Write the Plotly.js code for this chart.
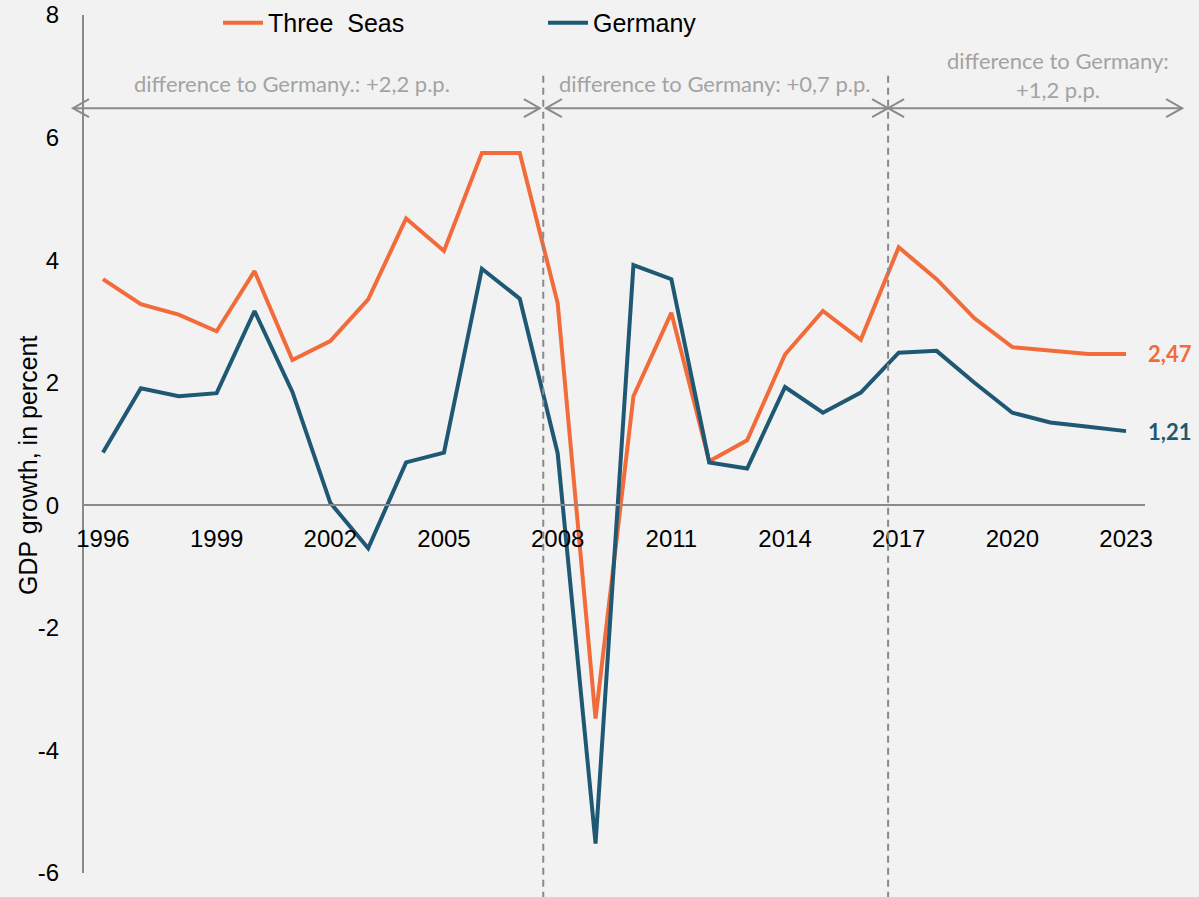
<!DOCTYPE html>
<html><head><meta charset="utf-8">
<script src="https://cdn.plot.ly/plotly-3.0.1.min.js"></script>
<style>html,body{margin:0;padding:0;background:#f2f2f2}</style>
</head><body><div id="chart" style="width:1199px;height:897px"></div>
<script>
const years = [1996,1997,1998,1999,2000,2001,2002,2003,2004,2005,2006,2007,2008,2009,2010,2011,2012,2013,2014,2015,2016,2017,2018,2019,2020,2021,2022,2023];
const threeSeas = [3.69,3.28,3.11,2.84,3.82,2.37,2.68,3.36,4.68,4.15,5.75,5.75,3.30,-3.48,1.78,3.14,0.72,1.06,2.46,3.17,2.70,4.21,3.69,3.05,2.58,2.52,2.47,2.47];
const germany = [0.86,1.91,1.78,1.83,3.17,1.85,0.04,-0.70,0.70,0.86,3.86,3.37,0.85,-5.52,3.92,3.69,0.70,0.60,1.93,1.51,1.84,2.49,2.52,2.00,1.51,1.35,1.28,1.21];
const seriesNames = ['Three  Seas', 'Germany'];
const xTickVals = [1996,1999,2002,2005,2008,2011,2014,2017,2020,2023];
const yTickVals = [-6,-4,-2,0,2,4,6,8];
const yTickText = ['-6','-4','-2','0','2','4','6','8'];
const yTitle = 'GDP growth, in percent';
const periodBreaks = [2007.62, 2016.72];
const periodLabels = ['difference to Germany.: +2,2 p.p.', 'difference to Germany: +0,7 p.p.', 'difference to Germany:<br>+1,2 p.p.'];

const ORANGE = '#f26b3a', TEAL = '#1f5873', GREY = '#8a8a8a', TXTGREY = '#a3a3a3';
const xRange = [1995.5, 2023.5];
const toPaperX = v => (v - xRange[0]) / (xRange[1] - xRange[0]);

const traces = [
  {x: years, y: threeSeas, name: seriesNames[0], type: 'scatter', mode: 'lines', line: {color: ORANGE, width: 4}},
  {x: years, y: germany, name: seriesNames[1], type: 'scatter', mode: 'lines', line: {color: TEAL, width: 4}}
];

const arrowY = 6.48;
const spans = [[-0.0104, toPaperX(2007.53)], [toPaperX(2007.69), toPaperX(periodBreaks[1])], [toPaperX(periodBreaks[1]), 1.035]];
const shapes = [];
periodBreaks.forEach(b => shapes.push({type: 'line', xref: 'x', yref: 'paper', x0: b, x1: b, y0: -0.03, y1: 0.932,
  line: {color: GREY, width: 2, dash: '7px,5px'}}));
spans.forEach(s => {
  shapes.push({type: 'line', xref: 'paper', yref: 'y', x0: s[0], x1: s[1], y0: arrowY, y1: arrowY, line: {color: GREY, width: 2}});
  shapes.push({type: 'path', xref: 'paper', yref: 'y', xsizemode: 'pixel', ysizemode: 'pixel', xanchor: s[0], yanchor: arrowY,
    path: 'M 16,9 L 0,0 L 16,-9', line: {color: GREY, width: 2}});
  shapes.push({type: 'path', xref: 'paper', yref: 'y', xsizemode: 'pixel', ysizemode: 'pixel', xanchor: s[1], yanchor: arrowY,
    path: 'M -16,9 L 0,0 L -16,-9', line: {color: GREY, width: 2}});
});

const labelFont = {family: 'Lato, sans-serif', size: 22, color: TXTGREY};
const annotations = [
  {xref: 'paper', yref: 'y', x: 0.1965, y: 6.884, xanchor: 'center', yanchor: 'middle', text: periodLabels[0], showarrow: false, font: labelFont},
  {xref: 'paper', yref: 'y', x: 0.5947, y: 6.884, xanchor: 'center', yanchor: 'middle', text: periodLabels[1], showarrow: false, font: labelFont},
  {xref: 'paper', yref: 'y', x: 0.918, y: 7.023, xanchor: 'center', yanchor: 'middle', text: periodLabels[2], showarrow: false, font: labelFont},
  {xref: 'x', yref: 'y', x: years[years.length-1], y: threeSeas[threeSeas.length-1], xanchor: 'left', yanchor: 'middle', xshift: 20, showarrow: false,
   text: threeSeas[threeSeas.length-1].toFixed(2).replace('.', ','), font: {family: 'Lato, sans-serif', size: 22, color: ORANGE, weight: 'bold'}},
  {xref: 'x', yref: 'y', x: years[years.length-1], y: germany[germany.length-1], xanchor: 'left', yanchor: 'middle', xshift: 20, showarrow: false,
   text: germany[germany.length-1].toFixed(2).replace('.', ','), font: {family: 'Lato, sans-serif', size: 22, color: TEAL, weight: 'bold'}},
  {xref: 'paper', yref: 'paper', x: -0.0528, y: 0.4755, xanchor: 'center', yanchor: 'middle', text: yTitle, textangle: -90, showarrow: false,
   font: {family: 'Liberation Sans, Arial, sans-serif', size: 25, color: '#000'}}
];

const axisFont = {family: 'Liberation Sans, Arial, sans-serif', size: 24, color: '#000'};
const layout = {
  width: 1199, height: 897,
  paper_bgcolor: '#f2f2f2', plot_bgcolor: '#f2f2f2',
  margin: {l: 84, r: 54, t: 15, b: 24, autoexpand: false},
  showlegend: true,
  legend: {orientation: 'h', x: 0.1263, xanchor: 'left', y: 0.9907, yanchor: 'middle', bgcolor: 'rgba(0,0,0,0)',
    font: {family: 'Liberation Sans, Arial, sans-serif', size: 25, color: '#000'}, entrywidth: 270, itemwidth: 40},
  xaxis: {range: xRange, tickvals: xTickVals, ticks: '', showline: true, linecolor: GREY, linewidth: 2,
    anchor: 'free', position: 6/14, showgrid: false, zeroline: false, tickfont: axisFont, ticklabelstandoff: 12, fixedrange: true},
  yaxis: {range: [-6, 8], tickvals: yTickVals, ticktext: yTickText, ticks: '', showline: true, linecolor: GREY, linewidth: 2,
    showgrid: false, zeroline: false, tickfont: axisFont, ticklabelstandoff: 18, fixedrange: true},
  shapes: shapes,
  annotations: annotations
};
Plotly.newPlot('chart', traces, layout, {displayModeBar: false, staticPlot: true});
</script></body></html>
